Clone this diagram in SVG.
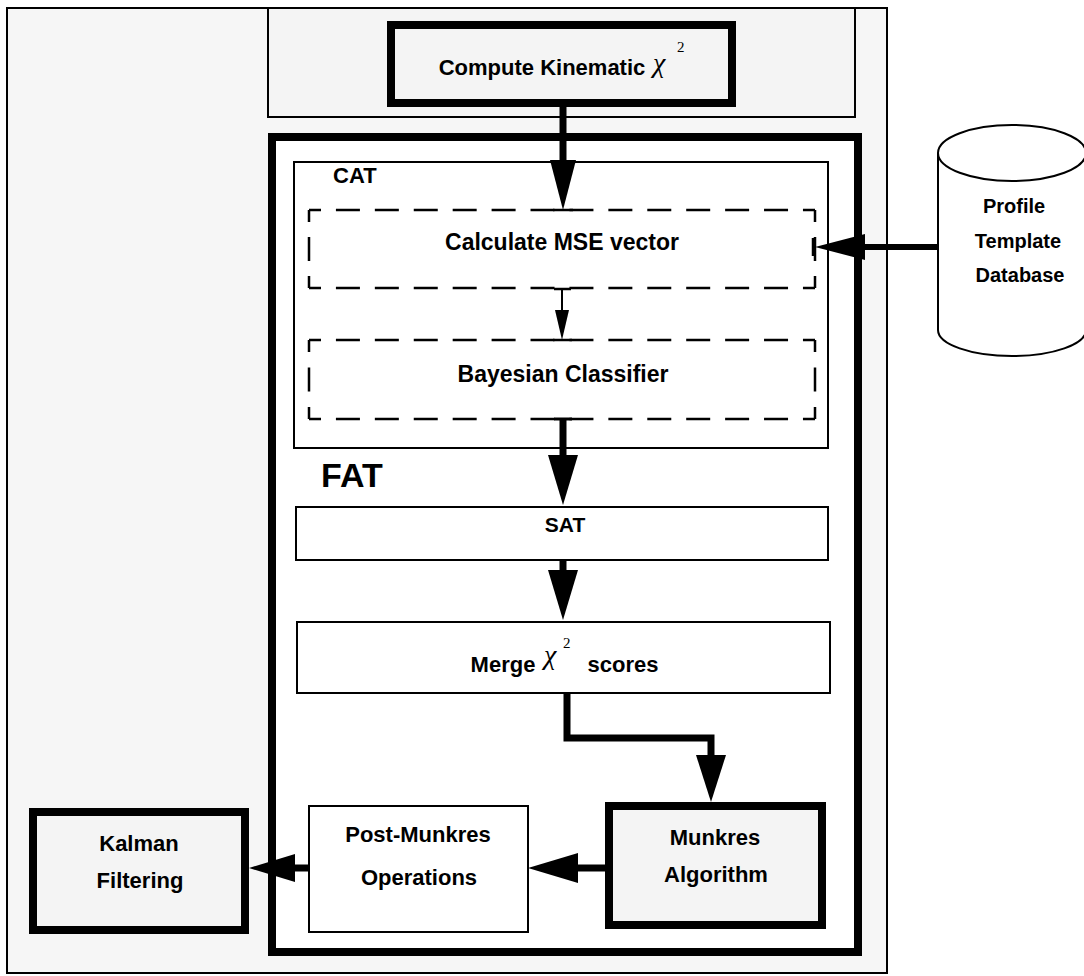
<svg xmlns="http://www.w3.org/2000/svg" width="1084" height="976" viewBox="0 0 1084 976">
<style>
.t{font-family:"Liberation Sans",Arial,sans-serif;font-weight:bold;fill:#000}
.g{font-family:"Liberation Serif","DejaVu Serif",serif;fill:#000}
.gi{font-family:"Liberation Serif","DejaVu Serif",serif;font-style:italic;fill:#000}
.thin{fill:#fff;stroke:#000;stroke-width:2}
.thick{fill:#f4f4f4;stroke:#000;stroke-width:8}
.dh{stroke:#000;stroke-width:2.5;fill:none;stroke-dasharray:24 14.92;stroke-dashoffset:12}
.dv{stroke:#000;stroke-width:2.5;fill:none;stroke-dasharray:24 15;stroke-dashoffset:12}
.dv2{stroke:#000;stroke-width:2.5;fill:none;stroke-dasharray:24 15.5;stroke-dashoffset:12}
.shaft{stroke:#000;fill:none;stroke-width:7}
.head{fill:#000;stroke:none}
</style>
<rect width="1084" height="976" fill="#fff"/>
<g id="outer-frame"><rect x="7" y="8" width="880" height="965" fill="#f6f6f6" stroke="#000" stroke-width="2"/></g>
<g id="top-region"><rect x="268" y="8" width="587" height="109" fill="#f4f4f4" stroke="#000" stroke-width="2"/></g>
<g id="compute-kinematic">
<rect class="thick" x="391" y="25" width="341" height="78"/>
<text class="t" font-size="22" x="542" y="75" text-anchor="middle">Compute Kinematic</text>
<text class="gi" font-size="28" x="653" y="72">χ</text>
<text class="g" font-size="15" x="677" y="52">2</text>
</g>
<g id="fat">
<rect x="272" y="137" width="586" height="815" fill="#fff" stroke="#000" stroke-width="8"/>
<text class="t" font-size="34" x="321" y="487">FAT</text>
</g>
<g id="cat">
<rect class="thin" x="294" y="162" width="534" height="286"/>
<text class="t" font-size="22" x="333" y="183">CAT</text>
</g>
<g id="calculate-mse">
<path class="dh" d="M309 210H815M309 288H815"/>
<path class="dv" d="M309 210V288M815 210V288"/>
<text class="t" font-size="23" x="562" y="250" text-anchor="middle">Calculate MSE vector</text>
</g>
<g id="bayesian">
<path class="dh" d="M309 340H815M309 419H815"/>
<path class="dv2" d="M309 340V419M815 340V419"/>
<text class="t" font-size="23" x="563" y="382" text-anchor="middle">Bayesian Classifier</text>
</g>
<g id="sat">
<rect class="thin" x="296" y="507" width="532" height="53"/>
<text class="t" font-size="21" x="565" y="532" text-anchor="middle">SAT</text>
</g>
<g id="merge">
<rect class="thin" x="297" y="622" width="533" height="71"/>
<text class="t" font-size="22" x="503" y="672" text-anchor="middle">Merge</text>
<text class="gi" font-size="28" x="544" y="664">χ</text>
<text class="g" font-size="15" x="563" y="648">2</text>
<text class="t" font-size="22" x="623" y="672" text-anchor="middle">scores</text>
</g>
<g id="munkres">
<rect class="thick" x="609" y="806" width="213" height="119"/>
<text class="t" font-size="22" x="715" y="845" text-anchor="middle">Munkres</text>
<text class="t" font-size="22" x="716" y="882" text-anchor="middle">Algorithm</text>
</g>
<g id="post-munkres">
<rect class="thin" x="309" y="806" width="219" height="126"/>
<text class="t" font-size="22" x="418" y="842" text-anchor="middle">Post-Munkres</text>
<text class="t" font-size="22" x="419" y="885" text-anchor="middle">Operations</text>
</g>
<g id="kalman">
<rect class="thick" x="33" y="812" width="212" height="118"/>
<text class="t" font-size="22" x="139" y="851" text-anchor="middle">Kalman</text>
<text class="t" font-size="22" x="140" y="888" text-anchor="middle">Filtering</text>
</g>
<g id="profile-db">
<path d="M938 153V330A74 26 0 0 0 1086 330V153" fill="#fff" stroke="#000" stroke-width="2"/>
<ellipse cx="1012" cy="153" rx="74" ry="28" fill="#fff" stroke="#000" stroke-width="2"/>
<text class="t" font-size="20" x="1014" y="213" text-anchor="middle">Profile</text>
<text class="t" font-size="20" x="1018" y="248" text-anchor="middle">Template</text>
<text class="t" font-size="20" x="1020" y="282" text-anchor="middle">Database</text>
</g>
<g id="connectors">
<line class="shaft" x1="563" y1="103" x2="563" y2="162"/>
<polygon class="head" points="550,160 576,160 563,210"/>
<line x1="553" y1="210" x2="573" y2="210" stroke="#000" stroke-width="2.5"/>
<line x1="562" y1="288" x2="562" y2="312" stroke="#000" stroke-width="2"/>
<line x1="554" y1="289" x2="571" y2="289" stroke="#000" stroke-width="2.5"/>
<polygon class="head" points="555,310 569,310 562,340"/>
<line x1="553" y1="340" x2="572" y2="340" stroke="#000" stroke-width="2.5"/>
<line x1="938" y1="247" x2="862" y2="247" stroke="#000" stroke-width="6"/>
<polygon class="head" points="865,234 865,260 815,247"/>
<line x1="813" y1="238" x2="813" y2="256" stroke="#000" stroke-width="2.5"/>
<line class="shaft" x1="563" y1="419" x2="563" y2="458"/>
<line x1="554" y1="419" x2="572" y2="419" stroke="#000" stroke-width="3"/>
<polygon class="head" points="548,455 578,455 563,505"/>
<line class="shaft" x1="563" y1="560" x2="563" y2="573"/>
<polygon class="head" points="548,570 578,570 563,620"/>
<path class="shaft" stroke-width="8" d="M567 693V738H711V757"/>
<polygon class="head" points="696,755 726,755 711,802"/>
<line class="shaft" stroke-width="8" x1="605" y1="868" x2="576" y2="868"/>
<polygon class="head" points="578,853 578,883 528,868"/>
<line class="shaft" stroke-width="8" x1="309" y1="868" x2="293" y2="868"/>
<polygon class="head" points="295,854 295,882 249,868"/>
</g>
</svg>
